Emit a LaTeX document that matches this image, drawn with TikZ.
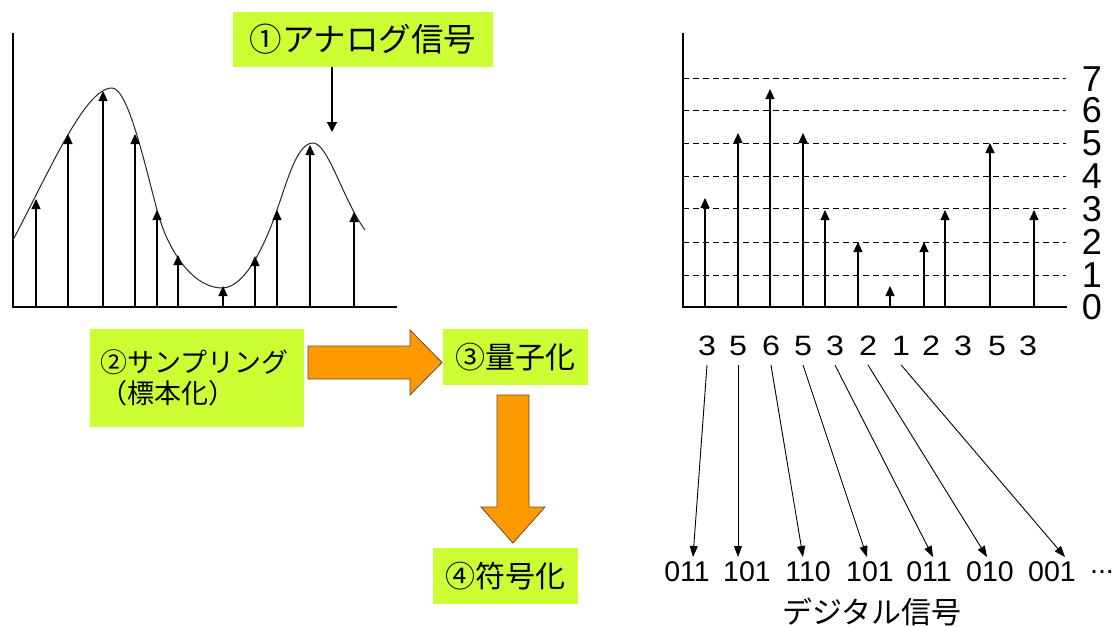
\documentclass[tikz,border=0pt]{standalone}
\usepackage{fontspec}
\setmainfont{Liberation Sans}
\newfontfamily\jp{Noto Sans CJK JP}
\usetikzlibrary{arrows.meta}
\definecolor{lbl}{HTML}{CCFF33}
\definecolor{blk}{HTML}{FF9900}
\definecolor{blkedge}{HTML}{6B4A2A}
\tikzset{
  lblbox/.style={fill=lbl, inner sep=0pt, font=\jp\fontsize{30}{36}\selectfont},
  stem/.style={line width=1.2pt, -{Triangle[width=9pt,length=10pt]}},
  thin arrow/.style={line width=0.9pt, -{Triangle[width=8pt,length=11pt]}},
  axis/.style={line width=1.2pt},
  level/.style={line width=1pt, dash pattern=on 6pt off 4pt},
  lvl/.style={font=\fontsize{36}{36}\selectfont, inner sep=0pt},
  num/.style={font=\fontsize{28}{28}\selectfont, inner sep=1pt},
  code/.style={font=\fontsize{28.5}{28.5}\selectfont, inner sep=0pt},
  blockarrow/.style={fill=blk, draw=blkedge, line width=0.8pt},
}
\begin{document}
\begin{tikzpicture}[x=1pt,y=-1pt]
\useasboundingbox (0,0) rectangle (1112,627);

% ---------- left: analog signal with samples ----------
\draw[axis] (13,33) -- (13,307) -- (397,307);
\draw[line width=1pt, black!85]
  (13,240) .. controls (50,170) and (85,88) .. (112,88)
  .. controls (128,88) and (145,165) .. (157,210)
  .. controls (169,255) and (195,288) .. (222,288)
  .. controls (245,288) and (265,245) .. (277,210)
  .. controls (289,175) and (298,143) .. (313,143)
  .. controls (328,143) and (343,200) .. (365,230);
\foreach \x/\y in {36/199, 68/134, 103/91, 135/134, 157/210, 178/255, 223/286,
                   255/256, 277/210, 310/145, 354/212}
  \draw[stem] (\x,307) -- (\x,\y);

\node[lblbox, minimum width=260pt, minimum height=55pt, font=\jp\fontsize{32.5}{36}\selectfont]
  (a1) at (363,39.5) {①アナログ信号};
\coordinate (a1tip) at (332,132);
\draw[line width=1.2pt, -{Triangle[width=10pt,length=10pt]}] (a1tip |- a1.south) -- (a1tip);

% ---------- right: quantized samples ----------
\draw[axis] (683,33) -- (683,307) -- (1067,307);
\foreach \v/\y in {1/275, 2/242, 3/208.5, 4/176, 5/143, 6/110, 7/78}
  \draw[level] (683,\y) -- (1066,\y);
\foreach \v/\y in {0/307, 1/275, 2/242, 3/209, 4/176, 5/143, 6/110, 7/79}
  \node[lvl] (lv\v) at (1092,\y) {\v};
\foreach \x/\y in {705/198, 738/133, 770/89, 803/133, 825/210, 858/242, 890/286,
                   924/242, 945/210, 990/143, 1034/210}
  \draw[stem] (\x,307) -- (\x,\y);

% ---------- quantized values ----------
\foreach \i/\x/\v in {1/707/3, 2/738/5, 3/771/6, 4/803/5, 5/835/3, 6/868/2,
                      7/901/1, 8/931/2, 9/963/3, 10/997/5, 11/1028/3}
  \node[num] (n\i) at (\x,346) {\scalebox{1.15}[1]{\v}};

% ---------- codes ----------
\foreach \i/\x/\c in {1/687/011, 2/747/101, 3/808/110, 4/870/101, 5/929/011,
                      6/990/010, 7/1052/001}
  \node[code] (c\i) at (\x,572) {\c};
\node[code] (c8) at (1102,572) {...};
\node[font=\jp\fontsize{30}{30}\selectfont, inner sep=0pt] (dig) at (872,612) {デジタル信号};

\foreach \i/\x in {1/693, 2/738, 3/803, 4/867, 5/933, 6/987, 7/1065}
  \coordinate (e\i) at (\x,557);
\foreach \i in {1,...,7}
  \draw[thin arrow] (n\i.south) ++(0,8) -- (e\i);

% ---------- process boxes ----------
\node[lblbox, minimum width=214pt, minimum height=98pt, font=\jp\fontsize{27}{43}\selectfont,
      align=left, text width=194pt] (a2) at (197,378)
  {②サンプリング\\\kern-0.45em（標本化）};
\node[lblbox, minimum width=145pt, minimum height=56pt] (a3) at (515.5,357) {③量子化};
\node[lblbox, minimum width=145pt, minimum height=56pt] (a4) at (505.5,576) {④符号化};

% block arrows
\draw[blockarrow] (308,346) -- (410,346) -- (410,330) -- (442,362.5) -- (410,395)
  -- (410,379) -- (308,379) -- cycle;
\draw[blockarrow] (497,395) -- (529,395) -- (529,507) -- (545,507) -- (513,543)
  -- (481,507) -- (497,507) -- cycle;
\end{tikzpicture}
\end{document}
